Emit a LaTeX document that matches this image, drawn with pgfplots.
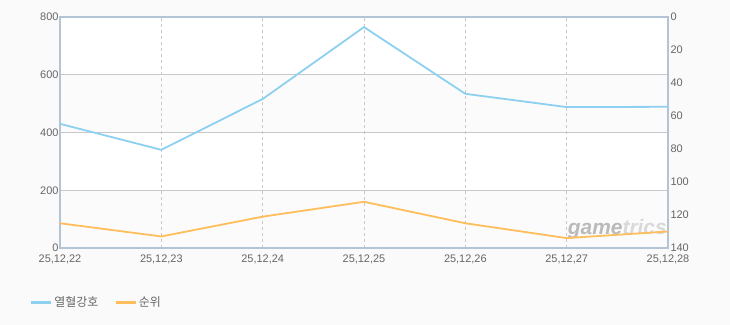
\documentclass[border=0pt]{standalone}
\usepackage{pgfplots}
\pgfplotsset{compat=1.18}
\usepackage{fontspec}
\setmainfont{Liberation Sans}
\newfontfamily\kr{Noto Sans CJK KR}
\definecolor{bg}{HTML}{FAFAFA}
\definecolor{band}{HTML}{FBFBFB}
\definecolor{frame}{HTML}{B2C4D6}
\definecolor{gridc}{HTML}{C8C8C8}
\definecolor{lblue}{HTML}{8DD0F0}
\definecolor{lorange}{HTML}{FFBE5C}
\definecolor{txt}{HTML}{666666}
\pgfplotsset{
  base/.style={
    at={(60bp,77bp)}, anchor=south west, scale only axis,
    width=608bp, height=231bp,
    xmin=0, xmax=6,
    major tick length=0pt,
    tick label style={font=\fontsize{11}{11}\selectfont, text=txt},
    /pgf/number format/assume math mode=true,
  }
}
\begin{document}
\begin{tikzpicture}[x=1bp,y=1bp]
\begin{axis}[base,
  set layers, clip=false,
  ymin=0, ymax=800,
  axis line style={frame, line width=1.6bp},
  xtick={0,...,6},
  xticklabels={{25,12,22},{25,12,23},{25,12,24},{25,12,25},{25,12,26},{25,12,27},{25,12,28}},
  xticklabel style={yshift=-3bp},
  ytick={0,200,...,800},
  yticklabel style={xshift=2bp},
  ymajorgrids, xmajorgrids,
  y grid style={gridc, line width=0.8bp},
  x grid style={gridc, dashed, line width=0.6bp},
]
\begin{pgfonlayer}{axis background}
\fill[bg] (rel axis cs:-0.098684,-0.333333) rectangle (rel axis cs:1.101974,1.073593);
\fill[white] (axis cs:0,0) rectangle (axis cs:6,800);
\fill[band] (axis cs:0,0) rectangle (axis cs:6,200);
\fill[band] (axis cs:0,400) rectangle (axis cs:6,600);
\end{pgfonlayer}
\node[font=\fontsize{21}{21}\selectfont\bfseries\itshape, inner sep=0, anchor=center] at (axis cs:5.50,66) {\textcolor{black!27}{game}\textcolor{black!15}{trics}};
\addplot[lblue, line width=1.8bp] coordinates {(0,430) (1,340) (2,516) (3,765) (4,534) (5,488) (6,489)};
\end{axis}
\begin{axis}[base,
  ymin=0, ymax=140, y dir=reverse,
  axis y line*=right, axis x line=none,
  axis line style={draw=none},
  ytick={0,20,...,140},
  yticklabel style={xshift=-1bp},
  legend style={draw=none, fill=none, at={(-0.055,-0.235)}, anchor=west,
    font=\kr\fontsize{12}{12}\selectfont, text=txt,
    /tikz/every even column/.append style={column sep=14bp}},
  legend columns=2,
  legend image code/.code={\draw[#1, line width=2.6bp] (0bp,0bp) -- (20bp,0bp);},
]
\addlegendimage{lblue}
\addlegendentry{열혈강호}
\addplot[lorange, line width=1.8bp] coordinates {(0,125) (1,133) (2,121) (3,112) (4,125) (5,134) (6,130)};
\addlegendentry{순위}
\end{axis}
\end{tikzpicture}
\end{document}
